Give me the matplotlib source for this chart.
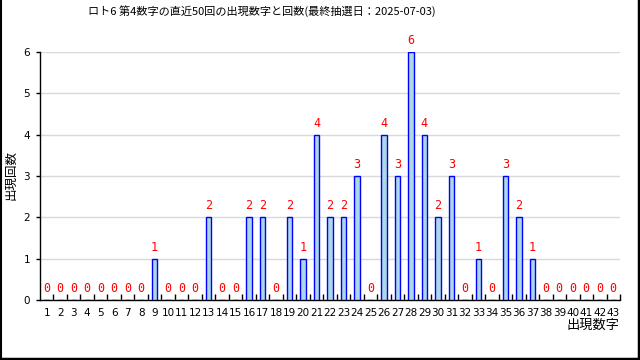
import matplotlib
matplotlib.use("Agg")
import matplotlib.pyplot as plt
from matplotlib.lines import Line2D

numbers = list(range(1, 44))
counts = [0, 0, 0, 0, 0, 0, 0, 0, 1, 0,
          0, 0, 2, 0, 0, 2, 2, 0, 2, 1,
          4, 2, 2, 3, 0, 4, 3, 6, 4, 2,
          3, 0, 1, 0, 3, 2, 1, 0, 0, 0,
          0, 0, 0]
title = "ロト6 第4数字の直近50回の出現数字と回数(最終抽選日：2025-07-03)"
xlabel = "出現数字"
ylabel = "出現回数"

plt.rcParams['font.family'] = ['Noto Sans CJK JP', 'DejaVu Sans']

fig = plt.figure(figsize=(6.4, 3.6), dpi=100)
ax = fig.add_axes([40/640, 1-300/360, 580/640, 248/360])

pos = list(range(len(numbers)))
ax.bar(pos, counts, width=0.4, color='#add8e6', edgecolor='#0000ff', linewidth=1, zorder=3)
ax.set_xlim(-0.5, len(numbers)-0.5)
ax.set_ylim(0, 6)

for p, c in zip(pos, counts):
    ax.annotate(str(c), (p, c), xytext=(0, 3.5), textcoords='offset points',
                ha='center', va='bottom', color='#ff0000', fontsize=8.5,
                family='DejaVu Sans Mono', zorder=4, annotation_clip=False)

ax.set_yticks(range(0, 7))
ax.set_yticklabels([str(v) for v in range(0, 7)], family='DejaVu Sans', fontsize=7.5)
ax.yaxis.grid(True, color='#d9d9d9', linewidth=1)
ax.set_axisbelow(True)

# x ticks: labels at centers, tick marks at boundaries
ax.set_xticks(pos)
ax.set_xticklabels([str(n) for n in numbers], family='DejaVu Sans', fontsize=7.5)
ax.tick_params(axis='x', which='major', length=0, pad=6)
ax.set_xticks([p + 0.5 for p in pos], minor=True)
ax.tick_params(axis='x', which='minor', direction='in', length=4, width=1, color='black')
ax.tick_params(axis='y', direction='out', length=3, width=1, pad=4)

for s in ['top', 'right']:
    ax.spines[s].set_visible(False)
ax.spines['left'].set_linewidth(1)
ax.spines['bottom'].set_linewidth(1)

fig.text(88/640, 1-11/360, title, ha='left', va='center', fontsize=8, color='black')
fig.text(11/640, 1-175/360, ylabel, ha='center', va='center', rotation=90, fontsize=9)
fig.text(620/640, 1-325/360, xlabel, ha='right', va='center', fontsize=9.5)

# figure border (left thin, right/bottom thick)
fig.add_artist(Line2D([0.5/640, 0.5/640], [0, 1], transform=fig.transFigure, color='black', linewidth=1.5))
fig.add_artist(Line2D([1-1/640, 1-1/640], [0, 1], transform=fig.transFigure, color='black', linewidth=2.5))
fig.add_artist(Line2D([0, 1], [1/360, 1/360], transform=fig.transFigure, color='black', linewidth=2.5))

fig.savefig("out.png", dpi=100)
